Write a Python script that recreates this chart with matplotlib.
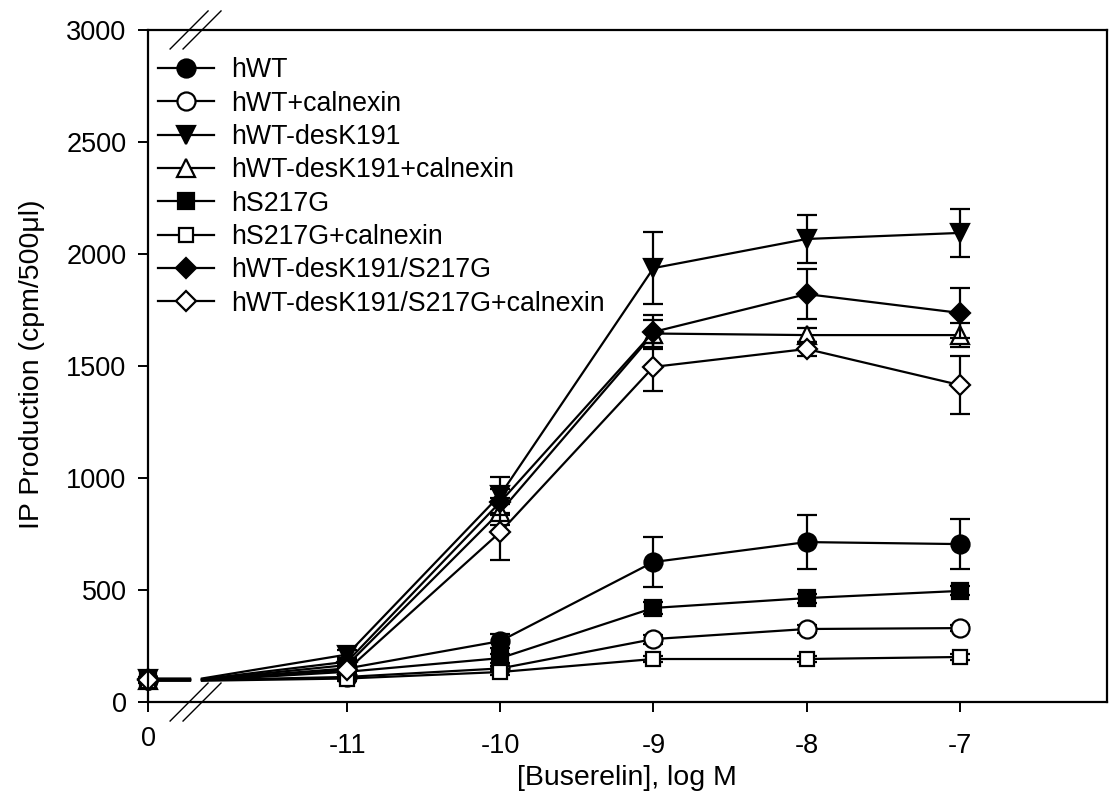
import matplotlib
matplotlib.use('Agg')
import matplotlib.pyplot as plt
from matplotlib.lines import Line2D
import numpy as np

plt.rcParams['font.family'] = ['Liberation Sans', 'DejaVu Sans']

# log M concentrations (0 = no buserelin)
conc = [0, -11, -10, -9, -8, -7]

names = ['hWT', 'hWT+calnexin', 'hWT-desK191', 'hWT-desK191+calnexin',
         'hS217G', 'hS217G+calnexin', 'hWT-desK191/S217G',
         'hWT-desK191/S217G+calnexin']

hwt = [100, 150, 272, 625, 714, 705]
hwt_err = [8, 15, 30, 112, 120, 112]
hwt_cal = [98, 112, 150, 281, 326, 330]
hwt_cal_err = [8, 10, 12, 20, 20, 15]
desk = [105, 212, 925, 1937, 2067, 2094]
desk_err = [8, 20, 80, 160, 107, 108]
desk_cal = [100, 165, 850, 1645, 1638, 1638]
desk_cal_err = [8, 15, 60, 60, 30, 55]
s217 = [97, 135, 196, 420, 464, 496]
s217_err = [8, 12, 20, 25, 20, 20]
s217_cal = [95, 105, 134, 192, 192, 201]
s217_cal_err = [8, 10, 15, 15, 15, 15]
desk_s217 = [102, 180, 893, 1652, 1821, 1737]
desk_s217_err = [8, 15, 60, 75, 110, 110]
desk_s217_cal = [100, 143, 759, 1496, 1576, 1415]
desk_s217_cal_err = [8, 15, 125, 108, 30, 130]

values = [hwt, hwt_cal, desk, desk_cal, s217, s217_cal, desk_s217, desk_s217_cal]
errors = [hwt_err, hwt_cal_err, desk_err, desk_cal_err, s217_err, s217_cal_err,
          desk_s217_err, desk_s217_cal_err]
markers = ['o', 'o', 'v', '^', 's', 's', 'D', 'D']
fills = ['k', 'w', 'k', 'w', 'k', 'w', 'k', 'w']
msizes = [13, 13, 13.5, 13.5, 11, 10.5, 10.5, 10.5]

# axis layout: the "0" point sits left of a broken x axis
X_ZERO = -12.3
BREAK_L = -12.026
BREAK_R = -11.948

fig = plt.figure(figsize=(11.09, 8.10), dpi=100)
ax = fig.add_axes([0.1335, 0.1333, 0.8645, 0.8297])

xpos = np.array([X_ZERO if c == 0 else c for c in conc], dtype=float)

for y, e, m, fc, ms in zip(values, errors, markers, fills, msizes):
    y = np.array(y, dtype=float)
    ax.errorbar(xpos, y, yerr=e, fmt='none', ecolor='k', elinewidth=1.6,
                capsize=7.5, capthick=1.6, clip_on=False)
    xl = np.concatenate([[xpos[0], BREAK_L, np.nan, BREAK_R], xpos[1:]])
    yl = np.concatenate([[y[0], y[0], np.nan, y[0]], y[1:]])
    ax.plot(xl, yl, color='k', lw=1.6, clip_on=False)
    ax.plot(xpos, y, linestyle='none', marker=m, ms=ms, mfc=fc, mec='k',
            mew=1.6, clip_on=False)

handles = [Line2D([], [], color='k', lw=1.6, marker=m, ms=ms, mfc=fc, mec='k', mew=1.6)
           for m, fc, ms in zip(markers, fills, msizes)]
ax.legend(handles, names, loc='upper left', bbox_to_anchor=(0.0104, 0.9595),
          frameon=False, fontsize=19.3, handlelength=2.1, handletextpad=0.63,
          labelspacing=0.275, borderpad=0, borderaxespad=0)

ax.set_xlim(X_ZERO, -6.04)
ax.set_ylim(0, 3000)
ax.set_yticks(np.arange(0, 3001, 500))
ax.set_xticks([-11, -10, -9, -8, -7])
ax.set_xticklabels(['-11', '-10', '-9', '-8', '-7'])
ax.set_xticks([X_ZERO], labels=['0'], minor=True)

ax.tick_params(axis='both', which='both', direction='out', length=7.5, width=1.4,
               labelsize=19.5, top=False, right=False)
ax.tick_params(axis='x', which='major', pad=15)
ax.tick_params(axis='x', which='minor', pad=10)
ax.tick_params(axis='y', pad=8)
for s in ax.spines.values():
    s.set_linewidth(1.6)

# break marks on the top and bottom spines
for xa in (0.0428, 0.0563):
    for ya in (0.0, 1.0):
        ax.plot([xa - 0.0198, xa + 0.0198], [ya - 0.0283, ya + 0.0283], color='k',
                lw=1.0, transform=ax.transAxes, clip_on=False)

ax.set_xlabel('[Buserelin], log M', fontsize=20.5, labelpad=4)
ax.set_ylabel('IP Production (cpm/500\u03bcl)', fontsize=20.5)
ax.yaxis.set_label_coords(-0.108, 0.503)

fig.savefig('out.png', dpi=100)
